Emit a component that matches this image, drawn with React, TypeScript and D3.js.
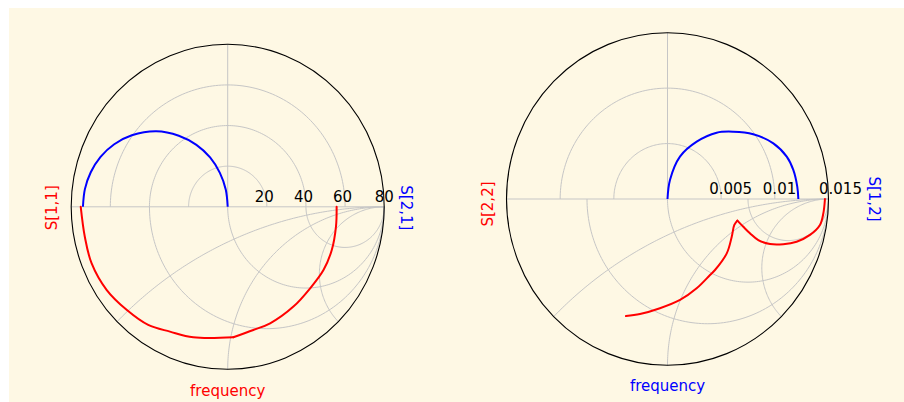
import React from "react";
import * as d3 from "d3";

// ---- grid definitions ----
const leftTicks = [20, 40, 60, 80];
const rightTicks = [0.005, 0.01, 0.015];
const smithR = [1 / 3, 1, 3];
const smithX = [Math.SQRT2 - 1, 1, Math.SQRT2 + 1];

// ---- left chart data ----
// S[2,1] polar (real / imag)
const s21Re = [0, -1, -4, -9, -16, -25, -36.5, -49, -58, -65, -70, -73, -74];
const s21Im = [0, 8.5, 16.7, 24.3, 30.5, 35, 37.2, 35.2, 30.8, 24.6, 17, 8.7, 0];
// S[1,1] smith (reflection coefficient real / imag)
const s11Re = [0.696, 0.692, 0.665, 0.612, 0.527, 0.42, 0.271, 0.164, 0.036, -0.22, -0.369, -0.508, -0.646, -0.774, -0.87, -0.913, -0.939];
const s11Im = [0, -0.12, -0.266, -0.389, -0.501, -0.614, -0.717, -0.758, -0.803, -0.803, -0.768, -0.727, -0.634, -0.511, -0.347, -0.184, 0];
const s11Breaks = [8];

// ---- right chart data ----
// S[1,2] polar
const s12Re = [0, 0.00023, 0.00116, 0.00272, 0.00458, 0.00613, 0.00799, 0.00986, 0.01111, 0.01172, 0.01209, 0.01219];
const s12Im = [0, 0.00171, 0.00382, 0.00517, 0.00598, 0.00607, 0.00584, 0.00502, 0.00382, 0.00262, 0.00111, 0];
// S[2,2] smith
const s22Re = [0.978, 0.968, 0.947, 0.885, 0.802, 0.719, 0.637, 0.564, 0.512, 0.471, 0.434, 0.415, 0.399, 0.368, 0.295, 0.264, 0.181, 0.078, -0.047, -0.171, -0.258];
const s22Im = [0, -0.086, -0.156, -0.216, -0.257, -0.272, -0.271, -0.247, -0.206, -0.167, -0.13, -0.156, -0.227, -0.327, -0.427, -0.457, -0.537, -0.607, -0.657, -0.692, -0.704];
const s22Breaks = [10];

const FONT = "DejaVu Sans";
const GRID = "#c6c6c6";

type ChartProps = {
  cx: number; cy: number; rx: number; ry: number;
  max: number; ticks: number[];
  polarRe: number[]; polarIm: number[]; polarColor: string; polarLabel: string;
  smithRe: number[]; smithIm: number[]; smithBreaks: number[]; smithColor: string; smithLabel: string;
  freqColor: string;
  leftLabelDx: number; rightLabelDx: number; leftLabelDy: number; rightLabelDy: number;
  freqDy: number;
};

function splitAt<T>(pts: T[], breaks: number[]): T[][] {
  const out: T[][] = [];
  let start = 0;
  for (const b of breaks) {
    out.push(pts.slice(start, b + 1));
    start = b;
  }
  out.push(pts.slice(start));
  return out;
}

function Chart(p: ChartProps) {
  const sx = d3.scaleLinear().domain([-1, 1]).range([p.cx - p.rx, p.cx + p.rx]);
  const sy = d3.scaleLinear().domain([-1, 1]).range([p.cy + p.ry, p.cy - p.ry]);
  const px = d3.scaleLinear().domain([-p.max, p.max]).range([p.cx - p.rx, p.cx + p.rx]);
  const py = d3.scaleLinear().domain([-p.max, p.max]).range([p.cy + p.ry, p.cy - p.ry]);

  const gridLine = d3.line<[number, number]>().x(d => sx(d[0])).y(d => sy(d[1]));
  const smithLine = d3.line<[number, number]>().x(d => sx(d[0])).y(d => sy(d[1])).curve(d3.curveCatmullRom.alpha(0.5));
  const polarLine = d3.line<[number, number]>().x(d => px(d[0])).y(d => py(d[1])).curve(d3.curveCatmullRom.alpha(0.5));

  const N = 120;
  const polarArcs = p.ticks.slice(0, -1).map(t => {
    const f = t / p.max;
    return d3.range(N + 1).map(i => {
      const a = (Math.PI * i) / N;
      return [f * Math.cos(a), f * Math.sin(a)] as [number, number];
    });
  });
  const rCircles = smithR.map(r => {
    const c = r / (1 + r), rad = 1 / (1 + r);
    return d3.range(N + 1).map(i => {
      const a = Math.PI + (Math.PI * i) / N;
      return [c + rad * Math.cos(a), rad * Math.sin(a)] as [number, number];
    });
  });
  const xArcs = smithX.map(x => {
    const rad = 1 / x;
    const end = Math.PI / 2 + 2 * Math.atan(x);
    return d3.range(N + 1).map(i => {
      const a = Math.PI / 2 + ((end - Math.PI / 2) * i) / N;
      return [1 + rad * Math.cos(a), -rad + rad * Math.sin(a)] as [number, number];
    });
  });

  const polarPts = p.polarRe.map((r, i) => [r, p.polarIm[i]] as [number, number]);
  const smithPts = p.smithRe.map((r, i) => [r, p.smithIm[i]] as [number, number]);
  const smithSegs = splitAt(smithPts, p.smithBreaks);

  const lx = p.cx - p.rx - p.leftLabelDx;
  const rxp = p.cx + p.rx + p.rightLabelDx;
  const ly = p.cy + p.leftLabelDy;
  const ry = p.cy + p.rightLabelDy;

  return (
    <g>
      {polarArcs.map((pts, i) => (
        <path key={"pa" + i} d={gridLine(pts) || ""} fill="none" stroke={GRID} strokeWidth={1} />
      ))}
      {rCircles.map((pts, i) => (
        <path key={"rc" + i} d={gridLine(pts) || ""} fill="none" stroke={GRID} strokeWidth={1} />
      ))}
      {xArcs.map((pts, i) => (
        <path key={"xa" + i} d={gridLine(pts) || ""} fill="none" stroke={GRID} strokeWidth={1} />
      ))}
      <line x1={sx(-1)} x2={sx(1)} y1={sy(0)} y2={sy(0)} stroke={GRID} strokeWidth={1} />
      <line x1={sx(0)} x2={sx(0)} y1={sy(0)} y2={sy(1)} stroke={GRID} strokeWidth={1} />
      <ellipse cx={sx(0)} cy={sy(0)} rx={sx(1) - sx(0)} ry={sy(-1) - sy(0)} fill="none" stroke="#000" strokeWidth={1.1} />
      <path d={polarLine(polarPts) || ""} fill="none" stroke={p.polarColor} strokeWidth={2} />
      {smithSegs.map((seg, i) => (
        <path key={"ss" + i} d={smithLine(seg) || ""} fill="none" stroke={p.smithColor} strokeWidth={2} strokeLinejoin="round" strokeLinecap="round" />
      ))}
      {p.ticks.map((t, i) => (
        <text key={"t" + i} x={px(t) - (i === p.ticks.length - 1 ? 9.5 : 12)} y={p.cy - 5}
          fontFamily={FONT} fontSize={15} fill="#000">{String(t)}</text>
      ))}
      <text transform={`translate(${lx},${ly}) rotate(-90)`} textAnchor="middle" dominantBaseline="central"
        fontFamily={FONT} fontSize={15} fill={p.smithColor}>{p.smithLabel}</text>
      <text transform={`translate(${rxp},${ry}) rotate(90)`} textAnchor="middle" dominantBaseline="central"
        fontFamily={FONT} fontSize={15} fill={p.polarColor}>{p.polarLabel}</text>
      <text x={p.cx} y={p.cy + p.ry + p.freqDy} textAnchor="middle"
        fontFamily={FONT} fontSize={15} fill={p.freqColor}>frequency</text>
    </g>
  );
}

export default function App() {
  return (
    <svg width={904} height={402} style={{ position: "absolute", left: 0, top: 0, display: "block" }}>
      <rect x={0} y={0} width={904} height={402} fill="#ffffff" />
      <rect x={9} y={8} width={895} height={394} fill="#fef8e4" />
      <Chart cx={227.7} cy={206.8} rx={156.5} ry={162.5} max={80} ticks={leftTicks}
        polarRe={s21Re} polarIm={s21Im} polarColor="#0000ff" polarLabel="S[2,1]"
        smithRe={s11Re} smithIm={s11Im} smithBreaks={s11Breaks} smithColor="#ff0000" smithLabel="S[1,1]"
        freqColor="#ff0000" leftLabelDx={19.5} rightLabelDx={21.5} leftLabelDy={1} rightLabelDy={1} freqDy={27} />
      <Chart cx={667.5} cy={199} rx={161} ry={166.3} max={0.015} ticks={rightTicks}
        polarRe={s12Re} polarIm={s12Im} polarColor="#0000ff" polarLabel="S[1,2]"
        smithRe={s22Re} smithIm={s22Im} smithBreaks={s22Breaks} smithColor="#ff0000" smithLabel="S[2,2]"
        freqColor="#0000ff" leftLabelDx={18.5} rightLabelDx={45} leftLabelDy={5} rightLabelDy={0} freqDy={26} />
    </svg>
  );
}
